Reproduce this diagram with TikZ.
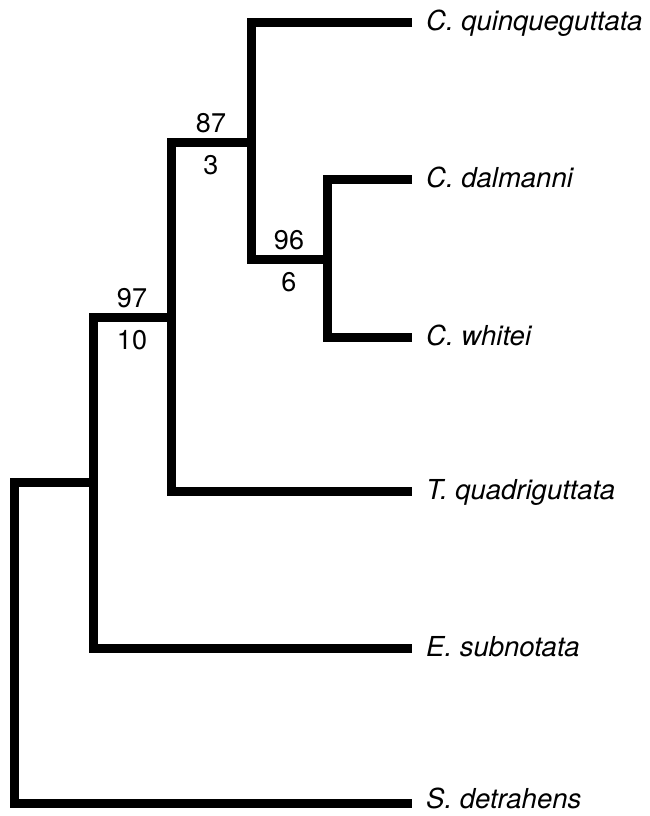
\documentclass[tikz,border=0pt]{standalone}
\usepackage{fontspec}
\setmainfont{TeX Gyre Heros}
\begin{document}
\begin{tikzpicture}[x=1pt,y=-1pt,
  branch/.style={line width=9pt,line join=miter,line cap=butt},
  taxon/.style={anchor=base west,inner sep=0pt,xshift=14pt,yshift=-8pt,
    font=\fontsize{27.5}{30}\selectfont\itshape},
  support/.style={anchor=base,inner sep=0pt,yshift=10pt,font=\fontsize{27}{30}\selectfont},
  decay/.style={anchor=base,inner sep=0pt,yshift=-32pt,font=\fontsize{27}{30}\selectfont}]
\useasboundingbox (0,0) rectangle (650,816);
% tips of the terminal branches
\coordinate (eQ) at (412,23);
\coordinate (eD) at (412,179);
\coordinate (eW) at (412,337);
\coordinate (eT) at (412,491);
\coordinate (eS) at (412,648);
\coordinate (eR) at (412,803);
% internal nodes (where each clade joins its parent branch)
\coordinate (A) at (327,259);
\coordinate (B) at (251,142);
\coordinate (C) at (171,317);
\coordinate (D) at (93,482);
\coordinate (R) at (14.5,482);
% taxon names
\node[taxon] (tQ) at (eQ) {C. quinqueguttata};
\node[taxon] (tD) at (eD) {C. dalmanni};
\node[taxon] (tW) at (eW) {C. whitei};
\node[taxon] (tT) at (eT) {T. quadriguttata};
\node[taxon] (tS) at (eS) {E. subnotata};
\node[taxon,yshift=3pt] (tR) at (eR) {S. detrahens};
% branches
\draw[branch] (eD) -- (eD -| A) -- (A |- eW) -- (eW);
\draw[branch] (eQ) -- (eQ -| B) -- (B |- A) -- (A);
\draw[branch] (B) -- (B -| C) -- (C |- eT) -- (eT);
\draw[branch] (C) -- (C -| D) -- (D |- eS) -- (eS);
\draw[branch] (D) -- (D -| R) -- (R |- eR) -- (eR);
% bootstrap values above, decay indices below the stem branches
\path (B) -- (B -| C) node[midway,support] (sB) {87} node[midway,decay] (dB) {3};
\path (A) -- (A -| B) node[midway,support] (sA) {96} node[midway,decay] (dA) {6};
\path (C) -- (C -| D) node[midway,support] (sC) {97} node[midway,decay] (dC) {10};
\end{tikzpicture}
\end{document}
